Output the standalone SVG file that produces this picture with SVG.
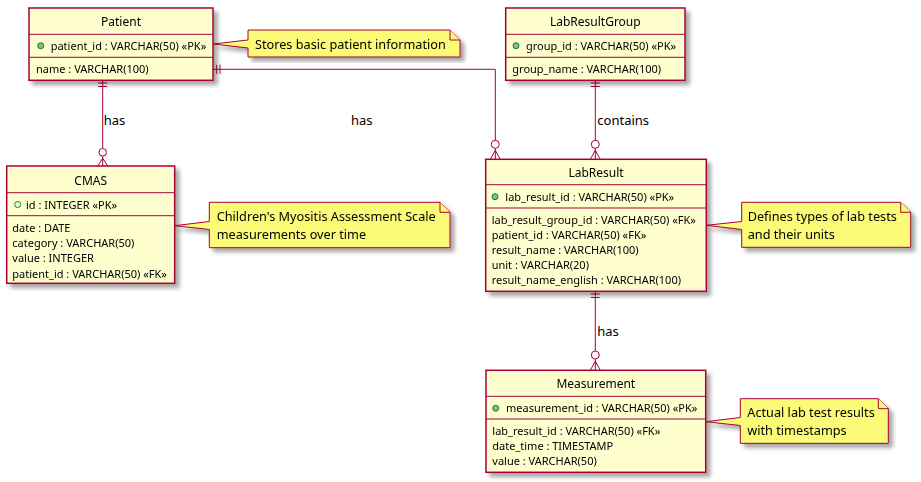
<svg xmlns="http://www.w3.org/2000/svg" width="921" height="482" viewBox="0 0 921 482">
<defs>
<filter id="sh" x="-10%" y="-10%" width="130%" height="130%">
<feGaussianBlur in="SourceAlpha" stdDeviation="2"/>
<feOffset dx="4" dy="4" result="o"/>
<feComponentTransfer><feFuncA type="linear" slope="0.35"/></feComponentTransfer>
<feMerge><feMergeNode/><feMergeNode in="SourceGraphic"/></feMerge>
</filter>
</defs>
<style>
.box{fill:#FEFECE;stroke:#A80036;stroke-width:1.5}
.div{stroke:#A80036;stroke-width:1}
.note{fill:#FBFB77;stroke:#A80036;stroke-width:1}
.t{font-family:"Noto Sans",sans-serif;font-size:12px;fill:#000;text-anchor:middle}
.f{font-family:"Noto Sans",sans-serif;font-size:11px;fill:#000}
.n{font-family:"Noto Sans",sans-serif;font-size:12.7px;fill:#000}
.l{font-family:"Noto Sans",sans-serif;font-size:13px;fill:#000}
.pk{fill:#84BE84;stroke:#038048;stroke-width:1}
.opt{fill:none;stroke:#038048;stroke-width:1}
.e{fill:none;stroke:#A80036;stroke-width:1}
.c{fill:#FFFFFF;stroke:#A80036;stroke-width:1}
</style>

<g id="connectors">
<!-- Patient -> CMAS -->
<line class="e" x1="102.7" y1="80.3" x2="102.7" y2="166"/>
<line class="e" x1="98.2" y1="83" x2="107.2" y2="83"/>
<line class="e" x1="98.2" y1="86.5" x2="107.2" y2="86.5"/>
<line class="e" x1="102.7" y1="158.3" x2="97.7" y2="166"/>
<line class="e" x1="102.7" y1="158.3" x2="107.7" y2="166"/>
<circle class="c" cx="102.7" cy="152.3" r="3.8"/>
<text class="l" x="103.7" y="125.4">has</text>
<!-- Patient -> LabResult -->
<path class="e" d="M213.3,69.3 H495.3 V159.3"/>
<line class="e" x1="216.7" y1="64.8" x2="216.7" y2="73.8"/>
<line class="e" x1="220" y1="64.8" x2="220" y2="73.8"/>
<line class="e" x1="495.3" y1="150.3" x2="490.3" y2="159.3"/>
<line class="e" x1="495.3" y1="150.3" x2="500.3" y2="159.3"/>
<circle class="c" cx="495.3" cy="144.3" r="4"/>
<text class="l" x="351" y="125.4">has</text>
<!-- LabResultGroup -> LabResult -->
<line class="e" x1="595.3" y1="80.3" x2="595.3" y2="159.3"/>
<line class="e" x1="590.8" y1="83" x2="599.8" y2="83"/>
<line class="e" x1="590.8" y1="86.5" x2="599.8" y2="86.5"/>
<line class="e" x1="595.3" y1="150.3" x2="590.3" y2="159.3"/>
<line class="e" x1="595.3" y1="150.3" x2="600.3" y2="159.3"/>
<circle class="c" cx="595.3" cy="144.3" r="4"/>
<text class="l" x="597.3" y="125">contains</text>
<!-- LabResult -> Measurement -->
<line class="e" x1="595.3" y1="291.3" x2="595.3" y2="370.3"/>
<line class="e" x1="590.8" y1="294" x2="599.8" y2="294"/>
<line class="e" x1="590.8" y1="297.5" x2="599.8" y2="297.5"/>
<line class="e" x1="595.3" y1="361.3" x2="590.3" y2="370.3"/>
<line class="e" x1="595.3" y1="361.3" x2="600.3" y2="370.3"/>
<circle class="c" cx="595.3" cy="355" r="4"/>
<text class="l" x="597.3" y="336.4">has</text>
</g>

<g id="Patient" filter="url(#sh)">
<rect class="box" x="29" y="8" width="184" height="72.3"/>
<line class="div" x1="29" y1="34.3" x2="213" y2="34.3"/>
<line class="div" x1="29" y1="57.3" x2="213" y2="57.3"/>
<text class="t" x="121" y="26.2">Patient</text>
<circle class="pk" cx="40.7" cy="45.7" r="3"/>
<text class="f" x="50.7" y="49.7">patient_id : VARCHAR(50) «PK»</text>
<text class="f" x="36" y="73.3">name : VARCHAR(100)</text>
</g>

<g id="LabResultGroup" filter="url(#sh)">
<rect class="box" x="505.7" y="8" width="179.3" height="72.3"/>
<line class="div" x1="505.7" y1="34.3" x2="685" y2="34.3"/>
<line class="div" x1="505.7" y1="57.3" x2="685" y2="57.3"/>
<text class="t" x="595.3" y="26.2">LabResultGroup</text>
<circle class="pk" cx="516" cy="45.7" r="3"/>
<text class="f" x="526" y="49.7">group_id : VARCHAR(50) «PK»</text>
<text class="f" x="512.3" y="73.3">group_name : VARCHAR(100)</text>
</g>

<g id="CMAS" filter="url(#sh)">
<rect class="box" x="6.7" y="166" width="168" height="117.3"/>
<line class="div" x1="6.7" y1="192.7" x2="174.7" y2="192.7"/>
<line class="div" x1="6.7" y1="215.7" x2="174.7" y2="215.7"/>
<text class="t" x="90.7" y="184.5">CMAS</text>
<circle class="opt" cx="17.7" cy="204.5" r="3"/>
<text class="f" x="26" y="209">id : INTEGER «PK»</text>
<text class="f" x="12.3" y="232.3">date : DATE</text>
<text class="f" x="12.3" y="247.3">category : VARCHAR(50)</text>
<text class="f" x="12.3" y="262.3">value : INTEGER</text>
<text class="f" x="12.3" y="277.7">patient_id : VARCHAR(50) «FK»</text>
</g>

<g id="LabResult" filter="url(#sh)">
<rect class="box" x="485.7" y="159.3" width="220.6" height="132"/>
<line class="div" x1="485.7" y1="184.7" x2="706.3" y2="184.7"/>
<line class="div" x1="485.7" y1="208" x2="706.3" y2="208"/>
<text class="t" x="596" y="177.2">LabResult</text>
<circle class="pk" cx="495" cy="196.7" r="3"/>
<text class="f" x="505.3" y="200.7">lab_result_id : VARCHAR(50) «PK»</text>
<text class="f" x="491.7" y="224">lab_result_group_id : VARCHAR(50) «FK»</text>
<text class="f" x="491.7" y="239.3">patient_id : VARCHAR(50) «FK»</text>
<text class="f" x="491.7" y="254.3">result_name : VARCHAR(100)</text>
<text class="f" x="491.7" y="269.3">unit : VARCHAR(20)</text>
<text class="f" x="491.7" y="284">result_name_english : VARCHAR(100)</text>
</g>

<g id="Measurement" filter="url(#sh)">
<rect class="box" x="486" y="370.3" width="219.7" height="102"/>
<line class="div" x1="486" y1="396.3" x2="705.7" y2="396.3"/>
<line class="div" x1="486" y1="419" x2="705.7" y2="419"/>
<text class="t" x="595.8" y="387.8">Measurement</text>
<circle class="pk" cx="495.7" cy="408.3" r="3"/>
<text class="f" x="506" y="412.3">measurement_id : VARCHAR(50) «PK»</text>
<text class="f" x="492.3" y="435">lab_result_id : VARCHAR(50) «FK»</text>
<text class="f" x="492.3" y="450">date_time : TIMESTAMP</text>
<text class="f" x="492.3" y="465.3">value : VARCHAR(50)</text>
</g>

<g id="notePatient" filter="url(#sh)">
<path class="note" d="M248,30 H450 L460,40 V57 H248 V48 L213.3,44 L248,40 Z"/>
<path class="note" d="M450,30 V40 H460"/>
<text class="n" x="255" y="49">Stores basic patient information</text>
</g>

<g id="noteCMAS" filter="url(#sh)">
<path class="note" d="M209.3,202.3 H440 L450,212.3 V247.7 H209.3 V229.5 L174.7,225.7 L209.3,221.5 Z"/>
<path class="note" d="M440,202.3 V212.3 H450"/>
<text class="n" x="216.7" y="221.4">Children's Myositis Assessment Scale</text>
<text class="n" x="216.7" y="239">measurements over time</text>
</g>

<g id="noteLabResult" filter="url(#sh)">
<path class="note" d="M741.7,202.3 H900.7 L910.7,212.3 V247.3 H741.7 V229.5 L706.3,225.3 L741.7,221.5 Z"/>
<path class="note" d="M900.7,202.3 V212.3 H910.7"/>
<text class="n" x="747.7" y="221.4">Defines types of lab tests</text>
<text class="n" x="747.7" y="239">and their units</text>
</g>

<g id="noteMeasurement" filter="url(#sh)">
<path class="note" d="M740.3,398.7 H878.3 L888.3,408.7 V443.3 H740.3 V425.5 L705.7,421.7 L740.3,417.5 Z"/>
<path class="note" d="M878.3,398.7 V408.7 H888.3"/>
<text class="n" x="747.3" y="417">Actual lab test results</text>
<text class="n" x="747.3" y="434.7">with timestamps</text>
</g>
</svg>
